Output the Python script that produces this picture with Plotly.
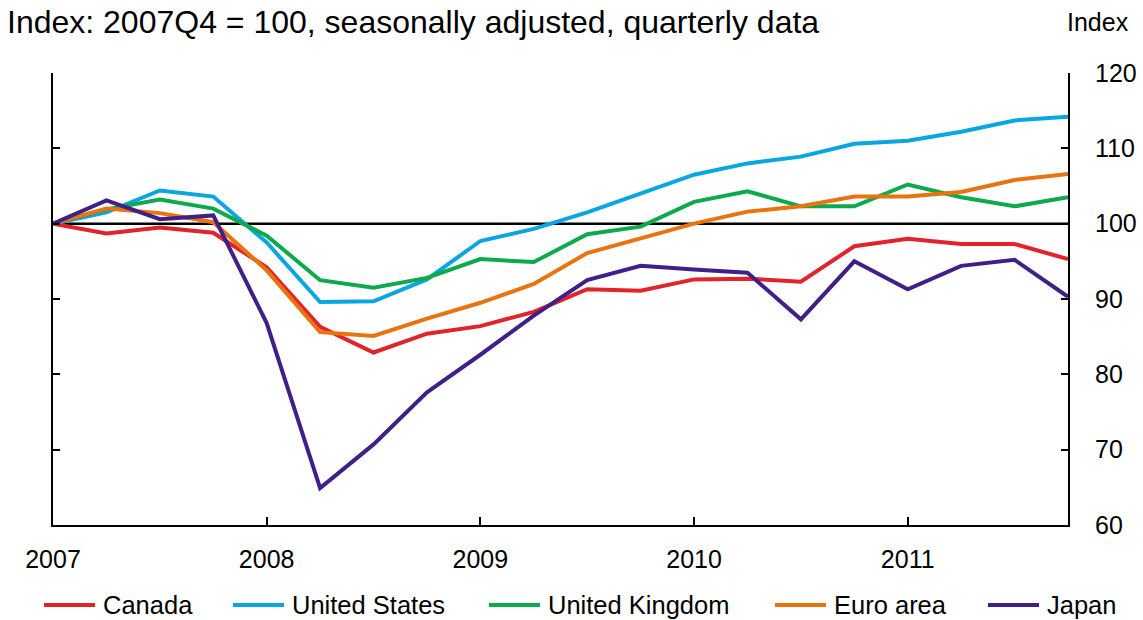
import plotly.graph_objects as go

quarters = [2007 + 0.25 * i for i in range(20)]

canada = [100, 98.7, 99.5, 98.8, 94.2, 86.3, 82.9, 85.4, 86.4, 88.3,
          91.3, 91.1, 92.6, 92.7, 92.3, 97.0, 98.0, 97.3, 97.3, 95.3]
united_states = [100, 101.5, 104.4, 103.6, 97.5, 89.6, 89.7, 92.6, 97.7, 99.3,
                 101.5, 104.0, 106.5, 108.0, 108.9, 110.6, 111.0, 112.2, 113.7, 114.2]
united_kingdom = [100, 101.9, 103.2, 102.0, 98.4, 92.5, 91.5, 92.8, 95.3, 94.9,
                  98.6, 99.6, 102.9, 104.3, 102.3, 102.3, 105.2, 103.5, 102.3, 103.5]
euro_area = [100, 102.0, 101.4, 100.2, 93.8, 85.6, 85.1, 87.4, 89.5, 92.0,
             96.1, 98.1, 100.0, 101.6, 102.3, 103.6, 103.6, 104.2, 105.8, 106.6]
japan = [100, 103.1, 100.6, 101.1, 86.8, 64.9, 70.7, 77.6, 82.6, 87.8,
         92.5, 94.4, 93.9, 93.5, 87.3, 95.0, 91.3, 94.4, 95.2, 90.3]

series_names = ["Canada", "United States", "United Kingdom", "Euro area", "Japan"]
series_values = [canada, united_states, united_kingdom, euro_area, japan]
colors = ["#E2232A", "#0AA6E2", "#0DAA4C", "#E8730F", "#402088"]

year_ticks = [2007, 2008, 2009, 2010, 2011]
y_ticks = [60, 70, 80, 90, 100, 110, 120]

FONT = "Liberation Sans, Arial, sans-serif"

W, H = 1143, 620
ML, MR, MT, MB = 53, 75, 73, 95
PW = W - ML - MR
PH = H - MT - MB


def px_to_paper_x(px):
    return (px - ML) / PW


def px_to_paper_y(py):
    return (H - MB - py) / PH


fig = go.Figure()
for name, vals, col in zip(series_names, series_values, colors):
    fig.add_trace(go.Scatter(x=quarters, y=vals, mode="lines", name=name,
                             line=dict(color=col, width=4), showlegend=False,
                             hoverinfo="skip"))

# reference line at 100
fig.add_shape(type="line", xref="paper", x0=0, x1=1, yref="y", y0=100, y1=100,
              line=dict(color="black", width=2.5), layer="below")

# custom legend
legend_line_px = [44, 233, 489, 775, 988]
legend_y = 605
for name, col, lx in zip(series_names, colors, legend_line_px):
    fig.add_shape(type="line", xref="paper", yref="paper",
                  x0=px_to_paper_x(lx), x1=px_to_paper_x(lx + 51),
                  y0=px_to_paper_y(legend_y), y1=px_to_paper_y(legend_y),
                  line=dict(color=col, width=4))
    fig.add_annotation(text=name, xref="paper", yref="paper",
                       x=px_to_paper_x(lx + 57), y=px_to_paper_y(legend_y),
                       xanchor="left", yanchor="middle", showarrow=False,
                       font=dict(family=FONT, size=25.5, color="black"))

fig.add_annotation(text="Index", xref="paper", yref="paper",
                   x=px_to_paper_x(1131), y=px_to_paper_y(22),
                   xanchor="right", yanchor="middle", showarrow=False,
                   font=dict(family=FONT, size=25, color="black"))

fig.update_layout(
    width=W, height=H,
    margin=dict(l=ML, r=MR, t=MT, b=MB, pad=0, autoexpand=False),
    paper_bgcolor="white", plot_bgcolor="white",
    font=dict(family=FONT, size=25, color="black"),
    title=dict(text="Index: 2007Q4 = 100, seasonally adjusted, quarterly data",
               x=7 / W, xanchor="left", xref="container",
               y=1 - 22 / H, yanchor="middle", yref="container",
               font=dict(family=FONT, size=32, color="black")),
    showlegend=False,
    hovermode=False,
    xaxis=dict(range=[2007, 2011.75], tickvals=year_ticks,
               ticktext=[str(y) for y in year_ticks],
               ticks="inside", ticklen=8, tickwidth=1.5, tickcolor="black",
               showline=True, linecolor="black", linewidth=2,
               showgrid=False, zeroline=False, mirror=False,
               ticklabelstandoff=11, automargin=False),
    yaxis=dict(range=[60, 120], tickvals=y_ticks, side="right",
               ticks="inside", ticklen=7, tickwidth=1.5, tickcolor="black",
               showline=True, linecolor="black", linewidth=2, mirror="ticks",
               showgrid=False, zeroline=False, ticklabelstandoff=20,
               automargin=False),
)

fig.write_html("out.html",
               config={"displayModeBar": False, "responsive": False},
               default_width="1143px", default_height="620px",
               post_script="document.body.style.margin='0px';document.body.style.overflow='hidden';")
